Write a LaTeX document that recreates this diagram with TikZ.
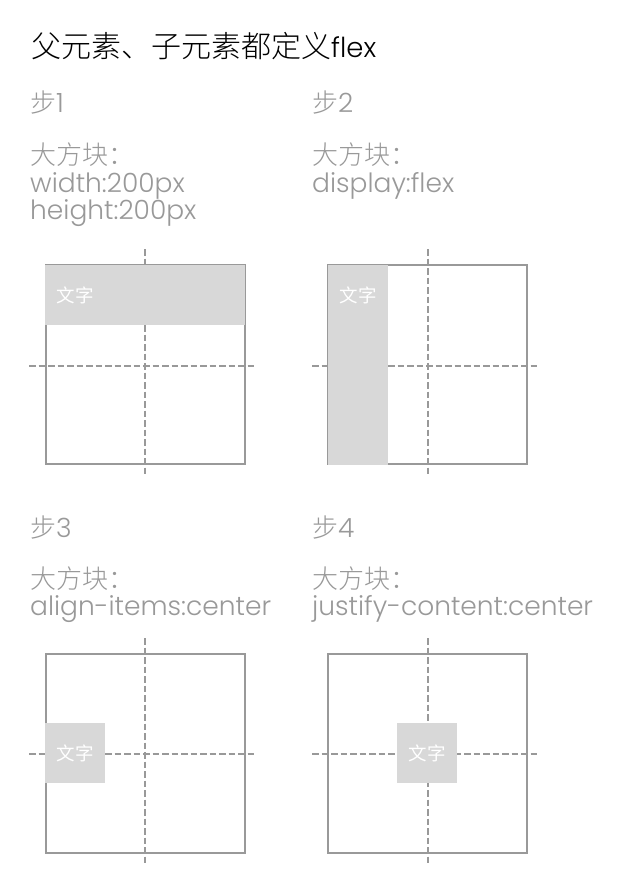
\documentclass[tikz,border=0pt]{standalone}
\usepackage{fontspec}
\setmainfont{Poppins}[UprightFont=* Light]
\newfontfamily\cjk{Noto Sans CJK SC}[UprightFont=* Light]
\newfontfamily\cjkreg{Noto Sans CJK SC}
\definecolor{lbl}{HTML}{999999}
\definecolor{fillg}{HTML}{D8D8D8}
\definecolor{ln}{HTML}{999999}
\begin{document}
\begin{tikzpicture}[x=1pt,y=-1pt,
  outline/.style={draw=ln, line width=2pt, inner sep=0pt, minimum width=199pt, minimum height=199pt},
  guide/.style={draw=ln, line width=2pt, dash pattern=on 6.5pt off 3pt},
  blockfill/.style={fill=fillg, draw=none, inner sep=0pt},
  celltxt/.style={text=white, font=\cjkreg\fontsize{18.5}{18.5}\selectfont, inner sep=0pt},
  lab/.style={text=lbl, anchor=base west, inner sep=0pt, font=\fontsize{26.5}{26.5}\selectfont},
  ttl/.style={text=black, anchor=base west, inner sep=0pt, font=\fontsize{27.5}{27.5}\selectfont}]
\useasboundingbox[fill=white] (0,0) rectangle (623,885);

% title
\node[ttl] (title) at (31,58) {{\cjk\fontsize{30}{30}\selectfont 父元素、子元素都定义}flex};

% labels column 1 row 1
\node[lab] (s1) at (30,113) {{\cjk\fontsize{26}{26}\selectfont 步}1};
\node[lab] (s1a) at (30,165) {\cjk\fontsize{26}{26}\selectfont 大方块：};
\node[lab] (s1b) at (30,193) {width:200px};
\node[lab] (s1c) at (30,219) {height:200px};
% column 2 row 1
\node[lab] (s2) at (312,113) {{\cjk\fontsize{26}{26}\selectfont 步}2};
\node[lab] (s2a) at (312,165) {\cjk\fontsize{26}{26}\selectfont 大方块：};
\node[lab] (s2b) at (312,193) {display:flex};
% row 2
\node[lab] (s3) at (30,537) {{\cjk\fontsize{26}{26}\selectfont 步}3};
\node[lab] (s3a) at (30,588) {\cjk\fontsize{26}{26}\selectfont 大方块：};
\node[lab] (s3b) at (30,615) {align-items:center};
\node[lab] (s4) at (312,537) {{\cjk\fontsize{26}{26}\selectfont 步}4};
\node[lab] (s4a) at (312,588) {\cjk\fontsize{26}{26}\selectfont 大方块：};
\node[lab] (s4b) at (312,615) {justify-content:center};

% outlines
\node[outline] (box1) at (145,364) {};
\node[outline] (box2) at (427.5,364.5) {};
\node[outline] (box3) at (145,753) {};
\node[outline] (box4) at (427.5,753) {};

% guides
\coordinate (v1t) at (145,249); \coordinate (v1b) at (145,475);
\coordinate (h1l) at (29,366);  \coordinate (h1r) at (256,366);
\coordinate (v2t) at (427.5,249); \coordinate (v2b) at (427.5,475);
\coordinate (h2l) at (312,366);  \coordinate (h2r) at (539,366);
\coordinate (v3t) at (145,638); \coordinate (v3b) at (145,863);
\coordinate (h3l) at (29,754);  \coordinate (h3r) at (256,754);
\coordinate (v4t) at (427.5,638); \coordinate (v4b) at (427.5,863);
\coordinate (h4l) at (312,754);  \coordinate (h4r) at (539,754);
\draw[guide] (v1t) -- (v1b); \draw[guide] (h1l) -- (h1r);
\draw[guide] (v2t) -- (v2b); \draw[guide] (h2l) -- (h2r);
\draw[guide] (v3t) -- (v3b); \draw[guide] (h3l) -- (h3r);
\draw[guide] (v4t) -- (v4b); \draw[guide] (h4l) -- (h4r);

% gray blocks
\node[blockfill, minimum width=200pt, minimum height=60pt] (b1) at (145,294.5) {};
\node[blockfill, minimum width=60pt, minimum height=200pt] (b2) at (358,364.5) {};
\node[blockfill, minimum width=60pt, minimum height=60pt] (b3) at (75,753) {};
\node[blockfill, minimum width=60pt, minimum height=60pt] (b4) at (427,753) {};

% texts
\node[celltxt] (t1) at (75,295) {文字};
\node[celltxt] (t2) at (358,295) {文字};
\node[celltxt] (t3) at (75,753) {文字};
\node[celltxt] (t4) at (427,753) {文字};
\end{tikzpicture}
\end{document}
